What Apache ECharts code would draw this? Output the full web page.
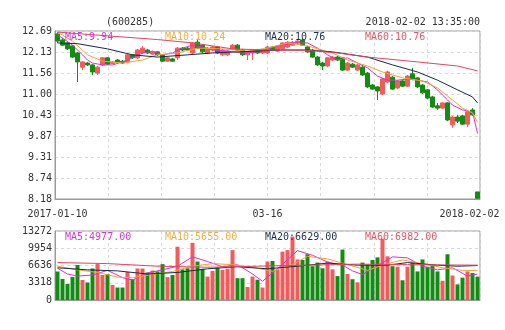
<!DOCTYPE html>
<html>
<head>
<meta charset="utf-8">
<script src="https://cdn.jsdelivr.net/npm/echarts@6/dist/echarts.min.js"></script>
<style>
  html, body { margin: 0; padding: 0; background: #fff; }
  #chart { width: 505px; height: 330px; }
</style>
</head>
<body>
<div id="chart"></div>
<script>
// ---- K-line data (one entry per bar) ----
const opens = [12.61,12.45,12.37,12.29,12.10,11.72,11.83,11.78,11.56,11.78,
  11.97,11.82,11.91,11.88,11.86,12.05,11.97,12.10,12.18,12.07,
  12.13,12.05,11.88,11.94,11.97,12.23,12.23,12.10,12.39,12.31,
  12.10,12.18,12.26,12.05,12.05,12.21,12.31,12.18,12.05,12.10,
  12.18,12.10,12.10,12.26,12.15,12.21,12.26,12.31,12.37,12.45,
  12.26,12.18,11.99,11.83,11.75,11.91,11.99,11.97,11.64,11.80,
  11.64,11.72,11.56,11.24,11.19,11.00,11.32,11.45,11.16,11.35,
  11.21,11.54,11.43,11.24,11.11,10.92,10.68,10.62,10.76,10.17,
  10.38,10.41,10.19,10.57,8.37];
const closes = [12.42,12.31,12.21,11.99,11.86,11.86,11.78,11.59,11.72,11.97,
  11.80,11.86,11.86,11.83,12.05,11.97,12.18,12.23,12.10,12.13,
  12.05,11.88,11.97,11.88,12.23,12.18,12.18,12.37,12.23,12.13,
  12.23,12.26,12.10,12.18,12.15,12.31,12.18,12.05,12.13,12.18,
  12.10,12.18,12.26,12.18,12.29,12.37,12.39,12.39,12.42,12.31,
  12.13,11.99,11.78,11.75,11.97,11.99,11.91,11.64,11.83,11.72,
  11.78,11.51,11.19,11.13,11.08,11.40,11.59,11.13,11.35,11.21,
  11.48,11.40,11.19,11.03,10.89,10.65,10.62,10.76,10.30,10.38,
  10.27,10.19,10.52,10.44,8.20];
const lows = [12.37,12.29,12.18,11.97,11.32,11.64,11.75,11.51,11.51,11.75,
  11.78,11.80,11.83,11.80,11.83,11.94,11.94,12.07,12.07,12.05,
  12.02,11.86,11.86,11.86,11.91,12.15,12.15,12.07,12.21,12.10,
  12.07,12.15,12.07,12.02,12.02,12.18,12.15,12.02,11.91,11.91,
  12.07,12.07,12.07,12.15,12.13,12.18,12.23,12.29,12.34,12.29,
  12.10,11.97,11.75,11.64,11.72,11.88,11.88,11.62,11.62,11.70,
  11.62,11.48,11.16,11.11,10.84,10.97,11.29,11.11,11.13,11.19,
  11.19,11.37,11.16,11.00,10.86,10.62,10.57,10.60,10.27,10.09,
  10.22,10.17,10.11,10.41,8.18];
const highs = [12.66,12.50,12.39,12.31,12.13,11.88,11.86,11.80,11.75,11.99,
  11.99,11.88,11.94,11.91,12.07,12.07,12.21,12.29,12.21,12.15,
  12.15,12.07,11.99,11.97,12.26,12.26,12.26,12.39,12.48,12.34,
  12.26,12.29,12.29,12.21,12.18,12.34,12.34,12.21,12.15,12.21,
  12.21,12.21,12.29,12.29,12.31,12.39,12.42,12.42,12.45,12.50,
  12.29,12.21,12.02,11.86,11.99,12.02,12.02,11.99,11.86,11.83,
  11.80,11.75,11.59,11.27,11.21,11.43,11.62,11.48,11.37,11.37,
  11.51,11.70,11.45,11.27,11.13,10.95,10.76,10.78,10.78,10.41,
  10.44,10.44,10.54,10.62,8.37];
const volumes = [5480,4040,3080,4420,6730,3850,3370,6060,6920,4810,
  5000,2890,2400,2400,5390,4040,6060,6060,5290,5670,
  5500,6900,4400,4800,10250,5900,6100,11000,7400,6000,
  4500,5600,6300,5800,6000,9600,4200,4200,2500,4500,
  3900,2400,7400,7500,5900,9300,9600,12200,7800,7700,
  8800,6500,7200,6100,7400,5900,4600,9700,5000,4000,
  3400,7200,6800,7700,8200,11800,8400,6500,6400,3800,
  6400,7200,5500,7800,6400,6700,5500,3700,8800,4700,
  3000,4300,5500,5200,4500];

// ---- moving-average readings: [bar index, value] ----
const ma5 = [[0,12.58],[1,12.50],[3,12.31],[5,12.05],[6,11.91],[7,11.83],[9,11.78],[11,11.78],
  [13,11.86],[15,11.97],[17,12.10],[19,12.15],[21,12.05],[23,12.10],[25,12.23],[27,12.31],
  [29,12.26],[31,12.18],[34,12.15],[37,12.10],[40,12.13],[42,12.21],[44,12.29],[47,12.37],
  [50,12.37],[52,12.23],[54,12.05],[56,11.91],[58,11.97],[60,11.83],[62,11.70],[64,11.48],
  [66,11.37],[68,11.37],[70,11.40],[72,11.37],[74,11.32],[76,11.11],[77,10.97],[78,10.84],
  [79,10.70],[81,10.57],[83,10.52],[84,9.94]];
const ma10 = [[0,12.66],[3,12.42],[6,12.05],[9,11.88],[13,11.83],[17,11.91],[20,12.05],[24,12.10],
  [28,12.23],[33,12.21],[38,12.15],[42,12.23],[46,12.37],[50,12.29],[55,12.10],[58,11.91],
  [62,11.75],[65,11.59],[69,11.43],[73,11.35],[76,11.16],[79,10.84],[81,10.62],[83,10.49],[84,10.24]];
const ma20 = [[0,12.37],[4,12.35],[10,12.21],[15,12.05],[20,11.99],[26,12.05],[31,12.10],[36,12.13],
  [45,12.18],[50,12.18],[55,12.13],[62,11.99],[67,11.78],[72,11.59],[76,11.37],[80,11.11],
  [83,10.92],[84,10.76]];
const ma60 = [[0,12.66],[10,12.56],[20,12.46],[27,12.37],[35,12.21],[42,12.18],[50,12.17],
  [56,12.10],[62,11.99],[72,11.86],[80,11.75],[84,11.62]];

const volMa5 = [[0,6100],[2,5000],[4,4600],[7,4800],[10,5700],[13,4300],[15,3850],[18,5200],
  [21,5800],[24,6500],[27,8300],[30,7400],[33,6400],[36,6800],[39,5000],[41,3600],[44,6000],
  [48,9500],[51,8600],[54,7300],[57,6700],[59,5600],[61,4900],[64,6600],[67,8300],[70,8100],
  [73,6500],[76,5800],[79,6200],[82,4600],[84,4977]];
const volMa10 = [[0,6500],[4,5800],[8,5300],[12,4400],[15,4300],[19,4900],[23,5500],[27,6500],
  [31,7000],[35,6800],[39,6300],[43,5500],[47,6800],[50,8400],[54,7900],[58,6800],[62,5700],
  [66,7000],[69,7700],[73,7000],[77,6200],[81,5700],[84,5655]];
const volMa20 = [[0,6200],[6,5800],[12,5600],[18,5000],[24,5300],[30,6000],[36,6400],[42,6000],
  [48,6500],[54,7100],[60,6700],[66,6700],[70,7200],[76,6700],[80,6500],[84,6629]];
const volMa60 = [[0,7200],[10,7000],[20,6500],[30,6300],[40,6500],[50,6700],[60,6900],[70,6800],[84,6700]];

// ---- axis labels and header texts ----
const priceTicks = ['8.18','8.74','9.31','9.87','10.43','11.00','11.56','12.13','12.69'];
const volTicks = ['0','3318','6636','9954','13272'];
const dateLabels = { 0: '2017-01-10', 42: '03-16', 84: '2018-02-02' };
const stockCode = '(600285)';
const stamp = '2018-02-02 13:35:00';
const priceLegend = ['MA5:9.94', 'MA10:10.24', 'MA20:10.76', 'MA60:10.76'];
const volLegend = ['MA5:4977.00', 'MA10:5655.00', 'MA20:6629.00', 'MA60:6982.00'];

// ---- styling ----
const UP = '#f45a5a', DOWN = '#138c13';
const maColors = ['#dc2ed8', '#f2a531', '#17294a', '#e24560'];
const legendColors = ['#d23ad2', '#f0b040', '#1c2f4e', '#e2586a'];
const FONT = 'DejaVu Sans Mono';
const GRID_LINE = { show: true, lineStyle: { color: '#d9d9d9', type: [3, 3], width: 1 } };

const slots = opens.map((_, i) => i);
const priceMin = Number(priceTicks[0]), priceMax = Number(priceTicks[priceTicks.length - 1]);
const priceStep = (priceMax - priceMin) / (priceTicks.length - 1);
const volMax = Number(volTicks[volTicks.length - 1]);
const volStep = volMax / (volTicks.length - 1);

const candles = slots.map(i => [opens[i], closes[i], lows[i], highs[i]]);
const volBars = slots.map(i => ({
  value: volumes[i],
  itemStyle: { color: closes[i] >= opens[i] ? UP : DOWN }
}));

function maLine(name, data, color, x, y) {
  return {
    name, type: 'line', data, xAxisIndex: x, yAxisIndex: y,
    showSymbol: false, symbol: 'none', smooth: false, connectNulls: true,
    lineStyle: { color, width: 1 }, silent: true, z: 3
  };
}

function legendTexts(list, top) {
  return list.map((t, k) => ({
    type: 'text', x: 65 + k * 100, y: top,
    style: { text: t, font: '10px "' + FONT + '"', fill: legendColors[k], align: 'left', verticalAlign: 'middle' },
    z: 10
  }));
}

const chart = echarts.init(document.getElementById('chart'), null, { renderer: 'canvas' });
chart.setOption({
  animation: false,
  backgroundColor: '#fff',
  textStyle: { fontFamily: FONT },
  grid: [
    { left: 55, right: 25, top: 31, height: 168, show: true, borderColor: '#9a9a9a', borderWidth: 1, backgroundColor: 'transparent' },
    { left: 55, right: 25, top: 231, height: 69, show: true, borderColor: '#9a9a9a', borderWidth: 1, backgroundColor: 'transparent' }
  ],
  xAxis: [
    {
      type: 'category', data: slots, gridIndex: 0, boundaryGap: true,
      axisLine: { show: true, lineStyle: { color: '#9a9a9a' } },
      axisTick: { show: false },
      splitLine: { show: false },
      axisLabel: {
        show: true, margin: 10, color: '#333', fontSize: 10, fontFamily: FONT,
        interval: (i) => dateLabels[i] !== undefined,
        formatter: (v, i) => i === slots.length - 1 ? '{r|' + dateLabels[i] + '}' : (dateLabels[i] || ''),
        rich: { r: { padding: [0, 16, 0, 0], color: '#333', fontSize: 10, fontFamily: FONT } }
      }
    },
    {
      type: 'value', gridIndex: 0, min: 0, max: 8, interval: 1, position: 'top',
      axisLine: { show: false }, axisTick: { show: false }, axisLabel: { show: false },
      splitLine: GRID_LINE
    },
    {
      type: 'category', data: slots, gridIndex: 1, boundaryGap: true,
      axisLine: { show: true, lineStyle: { color: '#9a9a9a' } },
      axisTick: { show: false }, axisLabel: { show: false }, splitLine: { show: false }
    },
    {
      type: 'value', gridIndex: 1, min: 0, max: 8, interval: 1, position: 'top',
      axisLine: { show: false }, axisTick: { show: false }, axisLabel: { show: false },
      splitLine: GRID_LINE
    }
  ],
  yAxis: [
    {
      type: 'value', gridIndex: 0, min: priceMin, max: priceMax, interval: priceStep,
      axisLine: { show: true, lineStyle: { color: '#9a9a9a' } },
      axisTick: { show: false },
      splitLine: GRID_LINE,
      axisLabel: {
        margin: 3, color: '#333', fontSize: 10, fontFamily: FONT,
        formatter: (v) => priceTicks[Math.round((v - priceMin) / priceStep)]
      }
    },
    {
      type: 'value', gridIndex: 1, min: 0, max: volMax, interval: volStep,
      axisLine: { show: true, lineStyle: { color: '#9a9a9a' } },
      axisTick: { show: false },
      splitLine: GRID_LINE,
      axisLabel: {
        margin: 3, color: '#333', fontSize: 10, fontFamily: FONT,
        formatter: (v) => volTicks[Math.round(v / volStep)]
      }
    }
  ],
  series: [
    {
      name: 'K', type: 'candlestick', data: candles, xAxisIndex: 0, yAxisIndex: 0,
      barWidth: 4, silent: true, z: 2,
      itemStyle: { color: UP, color0: DOWN, borderColor: UP, borderColor0: DOWN, borderColorDoji: UP, borderWidth: 1 }
    },
    maLine('MA5', ma5, maColors[0], 0, 0),
    maLine('MA10', ma10, maColors[1], 0, 0),
    maLine('MA20', ma20, maColors[2], 0, 0),
    maLine('MA60', ma60, maColors[3], 0, 0),
    {
      name: 'VOL', type: 'bar', data: volBars, xAxisIndex: 2, yAxisIndex: 1,
      barWidth: 4, silent: true, z: 2
    },
    maLine('VMA5', volMa5, maColors[0], 2, 1),
    maLine('VMA10', volMa10, maColors[1], 2, 1),
    maLine('VMA20', volMa20, maColors[2], 2, 1),
    maLine('VMA60', volMa60, maColors[3], 2, 1)
  ],
  graphic: [
    { type: 'text', x: 106, y: 22, z: 10,
      style: { text: stockCode, font: '10px "' + FONT + '"', fill: '#333', align: 'left', verticalAlign: 'middle' } },
    { type: 'text', x: 480, y: 22, z: 10,
      style: { text: stamp, font: '10px "' + FONT + '"', fill: '#333', align: 'right', verticalAlign: 'middle' } },
    ...legendTexts(priceLegend, 37),
    ...legendTexts(volLegend, 237)
  ]
});
</script>
</body>
</html>
